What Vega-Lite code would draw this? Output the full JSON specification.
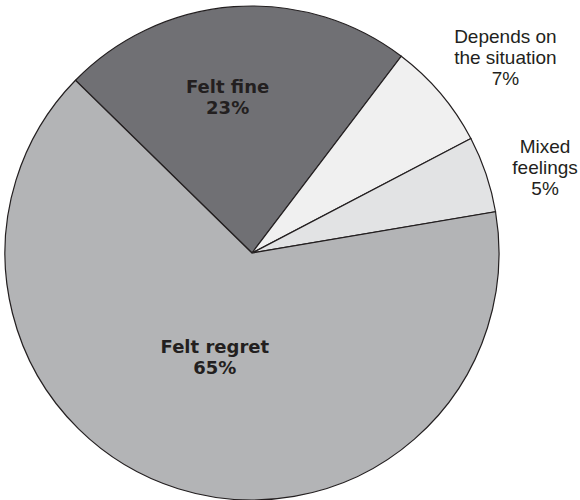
{
  "$schema": "https://vega.github.io/schema/vega-lite/v6.json",
  "width": 504,
  "height": 506,
  "autosize": {"type": "none"},
  "padding": {"left": 0, "top": 0, "right": 76, "bottom": 0},
  "background": "white",
  "config": {"view": {"stroke": null}},
  "data": {
    "values": [
      {"category": "Felt fine", "value": 23, "rank": 1, "label": "Felt fine\n23%"},
      {"category": "Depends on the situation", "value": 7, "rank": 2, "label": "Depends on\nthe situation\n7%"},
      {"category": "Mixed feelings", "value": 5, "rank": 3, "label": "Mixed\nfeelings\n5%"},
      {"category": "Felt regret", "value": 65, "rank": 4, "label": "Felt regret\n65%"}
    ]
  },
  "encoding": {
    "theta": {"field": "value", "type": "quantitative", "stack": true, "scale": {"range": [-0.796, 5.487]}},
    "order": {"field": "rank", "type": "quantitative"}
  },
  "layer": [
    {
      "mark": {"type": "arc", "radius": 247, "stroke": "#231f20", "strokeWidth": 1.2},
      "encoding": {
        "color": {
          "field": "category",
          "type": "nominal",
          "legend": null,
          "scale": {
            "domain": ["Felt fine", "Depends on the situation", "Mixed feelings", "Felt regret"],
            "range": ["#707074", "#f0f0f0", "#e2e3e4", "#b3b4b6"]
          }
        }
      }
    },
    {
      "mark": {"type": "text", "radius": 155, "dx": -13, "dy": -10.5, "font": "DejaVu Sans", "fontSize": 18, "fontWeight": "bold", "lineBreak": "\n", "lineHeight": 21, "align": "center", "baseline": "middle", "fill": "#231f20"},
      "encoding": {"text": {"condition": {"test": "datum.category === 'Felt fine'", "field": "label"}, "value": ""}}
    },
    {
      "mark": {"type": "text", "radius": 111, "dx": -4, "dy": -10.5, "font": "DejaVu Sans", "fontSize": 18, "fontWeight": "bold", "lineBreak": "\n", "lineHeight": 21, "align": "center", "baseline": "middle", "fill": "#231f20"},
      "encoding": {"text": {"condition": {"test": "datum.category === 'Felt regret'", "field": "label"}, "value": ""}}
    },
    {
      "mark": {"type": "text", "radius": 320, "dx": 9, "dy": -9.5, "font": "Liberation Sans", "fontSize": 19, "lineBreak": "\n", "lineHeight": 21, "align": "center", "baseline": "middle", "fill": "#231f20"},
      "encoding": {"text": {"condition": {"test": "datum.category === 'Depends on the situation'", "field": "label"}, "value": ""}}
    },
    {
      "mark": {"type": "text", "radius": 305, "dx": 4, "dy": -8.5, "font": "Liberation Sans", "fontSize": 19, "lineBreak": "\n", "lineHeight": 21, "align": "center", "baseline": "middle", "fill": "#231f20"},
      "encoding": {"text": {"condition": {"test": "datum.category === 'Mixed feelings'", "field": "label"}, "value": ""}}
    }
  ]
}
